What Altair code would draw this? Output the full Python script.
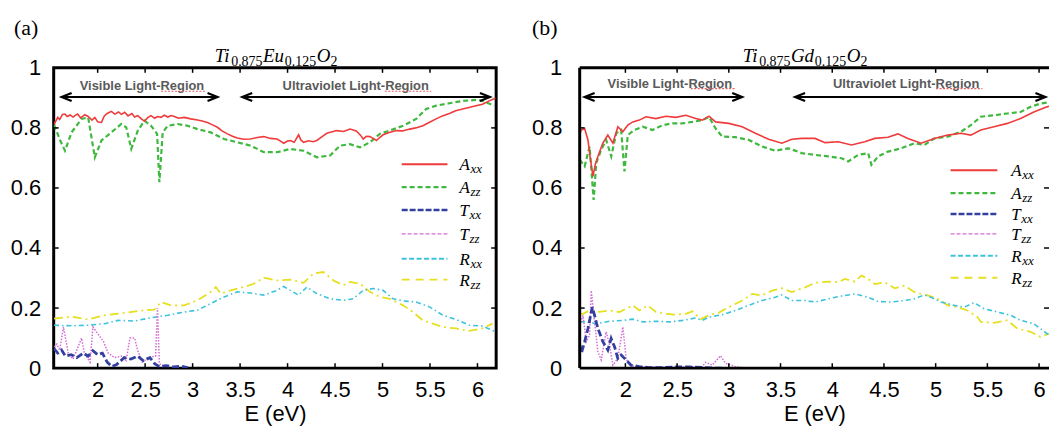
import altair as alt
import pandas as pd

SANS = "Liberation Sans"
SERIF = "Liberation Serif"

# ---------------- tick labels ----------------
x_ticks = [2, 2.5, 3, 3.5, 4, 4.5, 5, 5.5, 6]
y_ticks = [0, 0.2, 0.4, 0.6, 0.8, 1]

# ---------------- panel (a)  Ti0.875Eu0.125O2 ----------------
a_Axx_E = [1.54, 1.551, 1.58, 1.60, 1.63, 1.656, 1.68, 1.71, 1.74, 1.76, 1.79, 1.82, 1.865, 1.90, 1.94, 1.97,
           2.00, 2.04, 2.07, 2.10, 2.144, 2.18, 2.22, 2.25, 2.284, 2.32, 2.36, 2.39, 2.423, 2.46, 2.493, 2.53,
           2.563, 2.60, 2.63, 2.668, 2.70, 2.74, 2.772, 2.81, 2.85, 2.912, 2.98, 3.052, 3.10, 3.156, 3.21,
           3.261, 3.31, 3.366, 3.42, 3.471, 3.54, 3.61, 3.68, 3.75, 3.82, 3.889, 3.93, 3.959, 4.00, 4.029,
           4.07, 4.116, 4.14, 4.169, 4.22, 4.27, 4.308, 4.36, 4.413, 4.46, 4.518, 4.59, 4.657, 4.70, 4.727,
           4.77, 4.797, 4.83, 4.867, 4.90, 4.937, 4.97, 5.006, 5.07, 5.146, 5.21, 5.286, 5.35, 5.425, 5.49,
           5.565, 5.63, 5.704, 5.77, 5.844, 5.91, 5.984, 6.053, 6.123, 6.19]
a_Axx_v = [0.812, 0.818, 0.835, 0.828, 0.845, 0.846, 0.838, 0.843, 0.836, 0.841, 0.846, 0.833, 0.844, 0.838,
           0.826, 0.835, 0.820, 0.818, 0.840, 0.848, 0.855, 0.846, 0.853, 0.845, 0.852, 0.840, 0.848, 0.836,
           0.841, 0.830, 0.822, 0.835, 0.841, 0.832, 0.838, 0.835, 0.842, 0.836, 0.841, 0.838, 0.832, 0.835,
           0.830, 0.826, 0.823, 0.818, 0.810, 0.802, 0.790, 0.780, 0.772, 0.766, 0.762, 0.763, 0.768, 0.771,
           0.765, 0.763, 0.755, 0.749, 0.756, 0.758, 0.752, 0.777, 0.760, 0.752, 0.757, 0.754, 0.758, 0.770,
           0.782, 0.786, 0.791, 0.788, 0.796, 0.792, 0.789, 0.775, 0.763, 0.772, 0.771, 0.765, 0.758, 0.768,
           0.777, 0.785, 0.791, 0.790, 0.796, 0.800, 0.807, 0.818, 0.830, 0.840, 0.848, 0.857, 0.863, 0.868,
           0.874, 0.879, 0.890, 0.899]

a_Azz_E = [1.54, 1.551, 1.603, 1.656, 1.725, 1.830, 1.900, 1.970, 2.040, 2.144, 2.249, 2.301, 2.354, 2.423,
           2.493, 2.563, 2.626, 2.650, 2.685, 2.738, 2.842, 2.947, 3.052, 3.191, 3.331, 3.471, 3.610, 3.750,
           3.889, 4.029, 4.169, 4.308, 4.448, 4.553, 4.657, 4.762, 4.867, 4.971, 5.076, 5.216, 5.355, 5.460,
           5.565, 5.704, 5.844, 5.984, 6.053, 6.176]
a_Azz_v = [0.81, 0.802, 0.760, 0.724, 0.785, 0.830, 0.835, 0.702, 0.758, 0.785, 0.813, 0.802, 0.730, 0.791,
           0.824, 0.807, 0.780, 0.619, 0.785, 0.807, 0.813, 0.807, 0.796, 0.785, 0.763, 0.752, 0.741, 0.719,
           0.719, 0.730, 0.724, 0.702, 0.708, 0.741, 0.746, 0.735, 0.752, 0.780, 0.791, 0.807, 0.830, 0.863,
           0.874, 0.882, 0.890, 0.893, 0.890, 0.874]

a_Txx_E = [1.54, 1.58, 1.62, 1.66, 1.72, 1.78, 1.85, 1.90, 1.95, 2.00, 2.05, 2.10, 2.15, 2.20, 2.28, 2.35,
           2.42, 2.48, 2.55, 2.60, 2.65, 2.72, 2.80, 2.88, 2.95]
a_Txx_v = [0.065, 0.05, 0.06, 0.04, 0.045, 0.035, 0.05, 0.04, 0.058, 0.045, 0.05, 0.02, 0.005, 0.012, 0.035,
           0.03, 0.04, 0.025, 0.035, 0.015, 0.005, 0.008, 0.004, 0.006, 0.002]

a_Tzz_E = [1.54, 1.57, 1.60, 1.64, 1.69, 1.74, 1.78, 1.83, 1.86, 1.92, 1.95, 2.00, 2.06, 2.11, 2.18, 2.25,
           2.30, 2.34, 2.39, 2.42, 2.47, 2.54, 2.61, 2.63, 2.65, 2.70]
a_Tzz_v = [0.07, 0.08, 0.06, 0.137, 0.05, 0.03, 0.06, 0.10, 0.05, 0.02, 0.137, 0.115, 0.09, 0.05, 0.035, 0.04,
           0.025, 0.10, 0.10, 0.06, 0.02, 0.035, 0.04, 0.20, 0.015, 0.005]

a_Rxx_E = [1.54, 1.725, 1.900, 2.074, 2.214, 2.389, 2.563, 2.738, 2.912, 3.052, 3.191, 3.331, 3.471, 3.610,
           3.750, 3.889, 3.959, 4.029, 4.116, 4.204, 4.308, 4.448, 4.587, 4.692, 4.797, 4.902, 5.006, 5.111,
           5.216, 5.355, 5.495, 5.635, 5.774, 5.914, 6.053, 6.193]
a_Rxx_v = [0.143, 0.141, 0.143, 0.148, 0.159, 0.157, 0.168, 0.176, 0.187, 0.193, 0.215, 0.237, 0.254, 0.250,
           0.243, 0.259, 0.272, 0.259, 0.243, 0.270, 0.248, 0.231, 0.226, 0.231, 0.259, 0.265, 0.259, 0.231,
           0.224, 0.220, 0.204, 0.176, 0.162, 0.143, 0.140, 0.121]

a_Rzz_E = [1.54, 1.725, 1.900, 2.074, 2.284, 2.493, 2.598, 2.668, 2.772, 2.912, 3.052, 3.191, 3.244, 3.296,
           3.401, 3.540, 3.645, 3.750, 3.889, 4.029, 4.169, 4.273, 4.378, 4.483, 4.587, 4.657, 4.762, 4.867,
           4.971, 5.076, 5.216, 5.320, 5.425, 5.530, 5.635, 5.774, 5.914, 6.053, 6.158]
a_Rzz_v = [0.165, 0.171, 0.162, 0.176, 0.184, 0.193, 0.195, 0.220, 0.209, 0.209, 0.226, 0.254, 0.270, 0.248,
           0.259, 0.270, 0.281, 0.301, 0.292, 0.295, 0.284, 0.315, 0.320, 0.292, 0.276, 0.287, 0.281, 0.254,
           0.237, 0.231, 0.209, 0.187, 0.159, 0.148, 0.137, 0.132, 0.124, 0.132, 0.148]

# ---------------- panel (b)  Ti0.875Gd0.125O2 ----------------
b_Axx_E = [1.56, 1.574, 1.606, 1.638, 1.66, 1.686, 1.71, 1.734, 1.782, 1.830, 1.879, 1.927, 1.975, 2.023,
           2.071, 2.135, 2.199, 2.295, 2.391, 2.488, 2.584, 2.680, 2.744, 2.808, 2.872, 3.000, 3.129, 3.257,
           3.385, 3.513, 3.609, 3.705, 3.834, 3.930, 4.058, 4.186, 4.314, 4.411, 4.539, 4.635, 4.731, 4.859,
           4.988, 5.116, 5.244, 5.340, 5.436, 5.564, 5.693, 5.821, 5.949, 6.077, 6.096]
b_Axx_v = [0.78, 0.793, 0.798, 0.760, 0.70, 0.639, 0.68, 0.705, 0.749, 0.776, 0.749, 0.804, 0.787, 0.809,
           0.820, 0.826, 0.837, 0.831, 0.839, 0.835, 0.842, 0.831, 0.826, 0.839, 0.820, 0.815, 0.804, 0.782,
           0.762, 0.749, 0.762, 0.765, 0.765, 0.751, 0.754, 0.743, 0.754, 0.765, 0.769, 0.780, 0.765, 0.749,
           0.765, 0.776, 0.782, 0.776, 0.793, 0.804, 0.815, 0.831, 0.853, 0.870, 0.872]

b_Azz_E = [1.558, 1.606, 1.654, 1.693, 1.718, 1.766, 1.814, 1.863, 1.911, 1.959, 1.991, 2.023, 2.087, 2.167,
           2.263, 2.359, 2.455, 2.552, 2.648, 2.744, 2.808, 2.872, 2.936, 3.064, 3.193, 3.321, 3.449, 3.577,
           3.705, 3.834, 3.962, 4.090, 4.154, 4.250, 4.347, 4.379, 4.443, 4.539, 4.667, 4.795, 4.891, 4.988,
           5.116, 5.244, 5.340, 5.436, 5.564, 5.693, 5.821, 5.917, 6.013, 6.096]
b_Azz_v = [0.694, 0.672, 0.738, 0.560, 0.683, 0.727, 0.760, 0.705, 0.782, 0.793, 0.655, 0.776, 0.793, 0.804,
           0.793, 0.809, 0.815, 0.815, 0.820, 0.826, 0.837, 0.798, 0.771, 0.769, 0.760, 0.738, 0.724, 0.732,
           0.716, 0.710, 0.705, 0.699, 0.688, 0.710, 0.716, 0.677, 0.705, 0.721, 0.732, 0.749, 0.743, 0.765,
           0.771, 0.787, 0.809, 0.837, 0.842, 0.848, 0.853, 0.870, 0.881, 0.885]

b_Txx_E = [1.56, 1.574, 1.606, 1.638, 1.680, 1.702, 1.734, 1.782, 1.830, 1.862, 1.895, 1.927, 1.959, 2.007,
           2.055, 2.135, 2.231, 2.359, 2.488, 2.616, 2.744, 2.872, 2.968]
b_Txx_v = [0.077, 0.049, 0.088, 0.132, 0.203, 0.176, 0.132, 0.088, 0.060, 0.099, 0.071, 0.032, 0.044, 0.027,
           0.010, 0.005, 0.002, 0.002, 0.004, 0.004, 0.002, 0.0, 0.0]

b_Tzz_E = [1.56, 1.590, 1.622, 1.654, 1.670, 1.702, 1.734, 1.766, 1.814, 1.847, 1.879, 1.927, 1.975, 2.007,
           2.039, 2.103, 2.327, 2.552, 2.744, 2.776, 2.840, 2.920, 2.968, 3.064, 3.129]
b_Tzz_v = [0.143, 0.176, 0.088, 0.110, 0.258, 0.154, 0.055, 0.027, 0.121, 0.077, 0.010, 0.032, 0.137, 0.032,
           0.010, 0.005, 0.003, 0.004, 0.005, 0.019, 0.010, 0.041, 0.016, 0.005, 0.002]

b_Rxx_E = [1.56, 1.622, 1.718, 1.847, 1.975, 2.071, 2.167, 2.295, 2.423, 2.552, 2.680, 2.744, 2.808, 2.936,
           3.064, 3.193, 3.321, 3.449, 3.513, 3.609, 3.737, 3.834, 3.962, 4.090, 4.218, 4.347, 4.443, 4.571,
           4.699, 4.795, 4.891, 4.955, 5.052, 5.180, 5.276, 5.372, 5.468, 5.596, 5.725, 5.821, 5.949, 6.077,
           6.096]
b_Rxx_v = [0.154, 0.154, 0.148, 0.156, 0.159, 0.163, 0.154, 0.156, 0.154, 0.159, 0.167, 0.159, 0.170, 0.178,
           0.192, 0.209, 0.225, 0.236, 0.244, 0.225, 0.225, 0.220, 0.231, 0.240, 0.247, 0.236, 0.222, 0.220,
           0.225, 0.231, 0.244, 0.236, 0.220, 0.209, 0.203, 0.218, 0.198, 0.187, 0.176, 0.159, 0.148, 0.115,
           0.112]

b_Rzz_E = [1.56, 1.590, 1.654, 1.750, 1.847, 1.943, 2.007, 2.071, 2.135, 2.215, 2.295, 2.391, 2.488, 2.584,
           2.648, 2.728, 2.808, 2.904, 3.000, 3.129, 3.225, 3.321, 3.417, 3.513, 3.609, 3.737, 3.834, 3.962,
           4.058, 4.122, 4.218, 4.282, 4.347, 4.411, 4.507, 4.603, 4.699, 4.795, 4.924, 5.020, 5.116, 5.212,
           5.308, 5.404, 5.436, 5.564, 5.693, 5.789, 5.917, 6.013, 6.093]
b_Rzz_v = [0.181, 0.181, 0.192, 0.187, 0.192, 0.187, 0.198, 0.209, 0.192, 0.209, 0.187, 0.181, 0.178, 0.181,
           0.189, 0.163, 0.176, 0.185, 0.203, 0.225, 0.247, 0.242, 0.258, 0.266, 0.253, 0.269, 0.284, 0.288,
           0.286, 0.297, 0.288, 0.308, 0.297, 0.280, 0.286, 0.266, 0.275, 0.253, 0.242, 0.231, 0.209, 0.203,
           0.192, 0.170, 0.154, 0.151, 0.159, 0.132, 0.121, 0.104, 0.115]

# ---------------- series styles ----------------
series_order = ["Rzz", "Rxx", "Tzz", "Txx", "Azz", "Axx"]
styles = {
    "Axx": dict(color="#ef3b3b", width=1.6, dash=None, ldash=None, lwidth=2.0),
    "Azz": dict(color="#3fb83f", width=2.2, dash=[5, 3], ldash=[5, 3], lwidth=2.2),
    "Txx": dict(color="#3340a0", width=2.8, dash=[7, 3], ldash=[6, 2], lwidth=2.5),
    "Tzz": dict(color="#d46cd4", width=1.5, dash=[1.5, 1.5], ldash=[4, 2], lwidth=1.4),
    "Rxx": dict(color="#3cc3dc", width=1.6, dash=[5, 3, 1.5, 3], ldash=[5, 2.5], lwidth=2.0),
    "Rzz": dict(color="#e6e020", width=1.8, dash=[9, 4, 2, 4], ldash=[8, 6], lwidth=2.0),
}
legend_order = ["Axx", "Azz", "Txx", "Tzz", "Rxx", "Rzz"]

panel_a = {
    "Axx": (a_Axx_E, a_Axx_v), "Azz": (a_Azz_E, a_Azz_v), "Txx": (a_Txx_E, a_Txx_v),
    "Tzz": (a_Tzz_E, a_Tzz_v), "Rxx": (a_Rxx_E, a_Rxx_v), "Rzz": (a_Rzz_E, a_Rzz_v),
}
panel_b = {
    "Axx": (b_Axx_E, b_Axx_v), "Azz": (b_Azz_E, b_Azz_v), "Txx": (b_Txx_E, b_Txx_v),
    "Tzz": (b_Tzz_E, b_Tzz_v), "Rxx": (b_Rxx_E, b_Rxx_v), "Rzz": (b_Rzz_E, b_Rzz_v),
}

one = pd.DataFrame({"k": [0]})
H = 302


def vtext(txt, px, py, size, font=SERIF, style="normal", weight="normal", color="black", align="left",
          baseline="alphabetic"):
    return alt.Chart(one).mark_text(font=font, fontSize=size, fontStyle=style, fontWeight=weight,
                                    color=color, align=align, baseline=baseline).encode(
        x=alt.value(px), y=alt.value(py), text=alt.value(txt))


def make_panel(data, xmin, xmax, width, ylab_pad, letter, element, title_x, legend_x, legend_rows,
               arrows, region_texts, squiggles, boxed):
    xs = alt.Scale(domain=[xmin, xmax], nice=False, zero=False)
    ys = alt.Scale(domain=[0, 1], nice=False, zero=False)
    xax = alt.Axis(values=x_ticks, format="~g", ticks=False, domain=False, grid=False, labelFlush=False,
                   labelOverlap=False, labelFont=SANS, labelFontSize=22, labelColor="black", labelPadding=12,
                   title="E (eV)", titleFont=SANS, titleFontSize=22, titleFontWeight="normal",
                   titleColor="black", titlePadding=3)
    yax = alt.Axis(values=y_ticks, format="~g", ticks=False, domain=False, grid=False, labelFlush=False,
                   labelOverlap=False, labelFont=SANS, labelFontSize=22, labelColor="black",
                   labelPadding=ylab_pad, title=None)

    layers = []
    for s in series_order:
        E, v = data[s]
        st = styles[s]
        df = pd.DataFrame({"E": E, "v": v})
        kw = dict(color=st["color"], strokeWidth=st["width"], clip=True)
        if st["dash"]:
            kw["strokeDash"] = st["dash"]
        layers.append(alt.Chart(df).mark_line(**kw).encode(
            x=alt.X("E:Q", scale=xs, axis=xax), y=alt.Y("v:Q", scale=ys, axis=yax)))

    # inward ticks on all four sides
    ty = 5.0 / H
    tx = 5.0 * (xmax - xmin) / width
    rows = []
    for t in x_ticks:
        rows.append((t, t, 0, ty))
        rows.append((t, t, 1, 1 - ty))
    for t in y_ticks[1:-1]:
        rows.append((xmin, xmin + tx, t, t))
        rows.append((xmax - tx, xmax, t, t))
    tk = pd.DataFrame(rows, columns=["x", "x2", "y", "y2"])
    layers.append(alt.Chart(tk).mark_rule(color="black", strokeWidth=1.5).encode(
        x=alt.X("x:Q", scale=xs, axis=xax), x2="x2:Q", y=alt.Y("y:Q", scale=ys, axis=yax), y2="y2:Q"))

    if not boxed:
        fr = pd.DataFrame([(xmin, xmin, 0, 1), (xmin, xmax, 1, 1), (xmin, xmax, 0, 0)],
                          columns=["x", "x2", "y", "y2"])
        layers.append(alt.Chart(fr).mark_rule(color="black", strokeWidth=3).encode(
            x=alt.X("x:Q", scale=xs, axis=xax), x2="x2:Q", y=alt.Y("y:Q", scale=ys, axis=yax), y2="y2:Q"))

    # region arrows
    ar = pd.DataFrame(arrows, columns=["e1", "e2", "v"])
    layers.append(alt.Chart(ar).mark_rule(color="black", strokeWidth=2).encode(
        x=alt.X("e1:Q", scale=xs, axis=xax), x2="e2:Q", y=alt.Y("v:Q", scale=ys, axis=yax)))
    layers.append(alt.Chart(ar).mark_point(shape="M2,-0.8L0,0L2,0.8", filled=False, color="black",
                                           strokeWidth=2.2, size=100, opacity=1).encode(
        x=alt.X("e1:Q", scale=xs, axis=xax), y=alt.Y("v:Q", scale=ys, axis=yax)))
    layers.append(alt.Chart(ar).mark_point(shape="M-2,-0.8L0,0L-2,0.8", filled=False, color="black",
                                           strokeWidth=2.2, size=100, opacity=1).encode(
        x=alt.X("e2:Q", scale=xs, axis=xax), y=alt.Y("v:Q", scale=ys, axis=yax)))

    rt = pd.DataFrame(region_texts, columns=["e", "v", "t"])
    layers.append(alt.Chart(rt).mark_text(font=SANS, fontSize=13, fontWeight="bold", color="#5a5a5a",
                                          align="center", baseline="middle").encode(
        x=alt.X("e:Q", scale=xs, axis=xax), y=alt.Y("v:Q", scale=ys, axis=yax), text="t:N"))
    sq = pd.DataFrame(squiggles, columns=["e1", "e2", "v"])
    layers.append(alt.Chart(sq).mark_rule(color="#e06060", strokeWidth=1.2, strokeDash=[2, 1.5]).encode(
        x=alt.X("e1:Q", scale=xs, axis=xax), x2="e2:Q", y=alt.Y("v:Q", scale=ys, axis=yax)))

    # legend
    lx1, lx2, labx = legend_x
    for s, ry in zip(legend_order, legend_rows):
        st = styles[s]
        kw = dict(color=st["color"], strokeWidth=st["lwidth"])
        if st["ldash"]:
            kw["strokeDash"] = st["ldash"]
        layers.append(alt.Chart(one).mark_rule(**kw).encode(
            x=alt.value(lx1), x2=alt.value(lx2), y=alt.value(ry)))
        main = s[0]
        sub = s[1:]
        mw = {"A": 10.6, "T": 9.6, "R": 10.6}[main]
        layers.append(vtext(main, labx, ry + 6, 17, style="italic"))
        layers.append(vtext(sub, labx + mw + 0.5, ry + 9, 13, style="italic"))

    # panel letter and compound formula
    layers.append(vtext(letter, -40 if letter == "(a)" else -48, -33, 22))
    pieces = [("Ti", True), ("0.875", False), (element, True), ("0.125", False), ("O", True), ("2", False)]
    for (txt, is_main), px in zip(pieces, title_x):
        if is_main:
            layers.append(vtext(txt, px, -6, 19, style="italic"))
        else:
            layers.append(vtext(txt, px, -2, 14))

    view = alt.ViewBackground(stroke="black", strokeWidth=3) if boxed else alt.ViewBackground(
        stroke="transparent")
    return alt.layer(*layers).properties(width=width, height=H, view=view)


pa = make_panel(
    panel_a, 1.537, 6.197, 445, 13, "(a)", "Eu", [162, 178.5, 210.5, 232.5, 264.5, 278.5],
    (350, 396, 408), [97, 120, 143, 167, 192, 213],
    [(1.621, 3.262, 0.903), (3.523, 6.131, 0.903)],
    [(2.467, 0.938, "Visible Light-Region"), (4.718, 0.938, "Ultraviolet Light-Region")],
    [(2.668, 3.139, 0.922), (5.024, 5.513, 0.922)],
    True,
)
pb = make_panel(
    panel_b, 1.558, 6.096, 472, 18, "(b)", "Gd", [164, 180.5, 212.5, 236.5, 268.5, 282.5],
    (373, 420, 434), [103, 126, 147, 167, 189, 211],
    [(1.606, 3.129, 0.903), (3.641, 6.061, 0.903)],
    [(2.43, 0.947, "Visible Light-Region"), (4.715, 0.947, "Ultraviolet Light-Region")],
    [(2.632, 3.064, 0.931), (5.004, 5.452, 0.931)],
    False,
)

chart = alt.hconcat(pa, pb, spacing=31).properties(
    padding={"left": 8, "top": 14, "right": 0, "bottom": 1},
    background="white",
)

chart.save("out.html", embed_options={"renderer": "svg", "actions": False})
